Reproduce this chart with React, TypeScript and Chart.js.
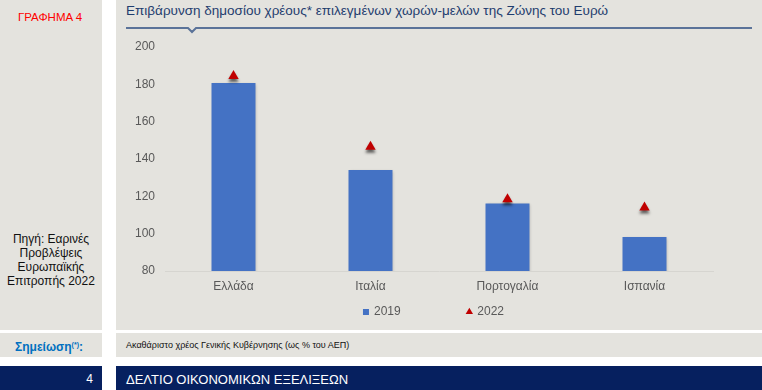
import React, { useEffect, useRef } from "react";
import { Chart, registerables } from "chart.js";

Chart.register(...registerables);

const categories = ["Ελλάδα", "Ιταλία", "Πορτογαλία", "Ισπανία"];
const values2019 = [180.7, 134.1, 116.2, 98.2];
const values2022 = [184.5, 146.5, 118.5, 114];
const seriesLabels = ["2019", "2022"];
const yTicks = { min: 80, max: 200, step: 20 };

const BG = "#e4e3de";
const FONT = "'Liberation Sans', Arial, sans-serif";

const shadowPlugin = {
  id: "markShadow",
  beforeDatasetDraw(chart: any, args: any) {
    const ctx = chart.ctx;
    ctx.save();
    if (args.meta.type === "bar") {
      ctx.shadowColor = "rgba(0,0,0,0.25)";
      ctx.shadowBlur = 3;
      ctx.shadowOffsetX = 1;
      ctx.shadowOffsetY = 1;
    } else {
      ctx.shadowColor = "rgba(0,0,0,0.6)";
      ctx.shadowBlur = 3;
      ctx.shadowOffsetX = 0;
      ctx.shadowOffsetY = 3;
    }
  },
  afterDatasetDraw(chart: any) {
    chart.ctx.restore();
  },
};

function ChartBox() {
  const ref = useRef<HTMLCanvasElement | null>(null);
  useEffect(() => {
    if (!ref.current) return;
    const chart = new Chart(ref.current, {
      type: "bar",
      data: {
        labels: categories,
        datasets: [
          {
            type: "bar",
            label: seriesLabels[0],
            data: values2019,
            backgroundColor: "#4472c4",
            borderWidth: 0,
            categoryPercentage: 1,
            barPercentage: 0.321,
            pointStyle: "rect",
            order: 1,
          } as any,
          {
            type: "line",
            label: seriesLabels[1],
            data: values2022,
            showLine: false,
            pointStyle: "triangle",
            pointRadius: 6,
            pointHoverRadius: 6,
            pointBorderWidth: 0,
            pointBackgroundColor: "#c00000",
            backgroundColor: "#c00000",
            borderColor: "#c00000",
            order: 0,
          } as any,
        ],
      },
      options: {
        animation: false,
        responsive: true,
        maintainAspectRatio: false,
        layout: { padding: { left: 0, right: 49, top: 11, bottom: 2 } },
        scales: {
          x: {
            grid: { display: false, drawTicks: false },
            border: { display: true, color: "#d6d5d0", width: 1 },
            ticks: { color: "#595959", font: { family: FONT, size: 12 }, padding: 8 },
            afterFit: (s: any) => {
              s.height = 25;
            },
          },
          y: {
            min: yTicks.min,
            max: yTicks.max,
            grid: { display: false, drawTicks: false },
            border: { display: false },
            ticks: {
              stepSize: yTicks.step,
              color: "#595959",
              font: { family: FONT, size: 12 },
              padding: 10,
            },
            afterFit: (s: any) => {
              s.width = 49;
              s.paddingTop = 0;
              s.paddingBottom = 0;
            },
          },
        },
        plugins: {
          tooltip: { enabled: false },
          legend: {
            position: "bottom",
            fullSize: false,
            labels: {
              color: "#595959",
              font: { family: FONT, size: 12 },
              usePointStyle: true,
              boxWidth: 4,
              boxHeight: 6,
              padding: 10,
              sort: (a: any, b: any) => a.datasetIndex - b.datasetIndex,
              generateLabels: (c: any) => {
                const items = (Chart as any).defaults.plugins.legend.labels.generateLabels(c);
                items.forEach((it: any) => {
                  if (it.datasetIndex === 0) it.text = it.text + " ".repeat(17);
                  else it.text = it.text + " ".repeat(3);
                });
                return items;
              },
            },
          },
        },
      },
      plugins: [shadowPlugin],
    } as any);
    return () => chart.destroy();
  }, []);
  return <canvas ref={ref} />;
}

export default function App() {
  useEffect(() => {
    document.body.style.margin = "0";
  }, []);
  const abs = (o: React.CSSProperties): React.CSSProperties => ({ position: "absolute", ...o });
  return (
    <div style={abs({ left: 0, top: 0, width: 762, height: 390, background: "#fff", fontFamily: FONT, overflow: "hidden" })}>
      <div style={abs({ left: 0, top: 0, width: 102, height: 330, background: BG })} />
      <div style={abs({ left: 116, top: 0, width: 646, height: 330, background: BG })} />
      <div style={abs({ left: 0, top: 10, width: 100, textAlign: "center", color: "#ff0000", fontSize: 11.5, lineHeight: "14px" })}>
        ΓΡΑΦΗΜΑ 4
      </div>
      <div style={abs({ left: 0, top: 233, width: 102, textAlign: "center", color: "#111", fontSize: 12, lineHeight: "13.9px" })}>
        Πηγή: Εαρινές
        <br />
        Προβλέψεις
        <br />
        Ευρωπαϊκής
        <br />
        Επιτροπής 2022
      </div>
      <div style={abs({ left: 126, top: 3, whiteSpace: "nowrap", color: "#1f3d6e", fontSize: 13.5, lineHeight: "16px" })}>
        Επιβάρυνση δημοσίου χρέους* επιλεγμένων χωρών-μελών της Ζώνης του Ευρώ
      </div>
      <svg width={762} height={40} style={abs({ left: 0, top: 0 })}>
        <polyline points="126,28 188,28 192,32 196,28 752,28" fill="none" stroke="#5b7399" strokeWidth={2} />
      </svg>
      <div style={abs({ left: 116, top: 36, width: 646, height: 294 })}>
        <ChartBox />
      </div>
      <div style={abs({ left: 0, top: 333, width: 102, height: 24, background: BG })} />
      <div style={abs({ left: 116, top: 333, width: 646, height: 24, background: BG })} />
      <div style={abs({ left: 0, top: 337, width: 83, textAlign: "right", color: "#0070c0", fontWeight: "bold", fontSize: 12, lineHeight: "16px" })}>
        Σημείωση<sup style={{ fontSize: 7, verticalAlign: "4px" }}>(*)</sup>:
      </div>
      <div style={abs({ left: 126, top: 339, color: "#111", fontSize: 9, lineHeight: "12px", whiteSpace: "nowrap" })}>
        Ακαθάριστο χρέος Γενικής Κυβέρνησης (ως % του ΑΕΠ)
      </div>
      <div style={abs({ left: 0, top: 366, width: 102, height: 24, background: "#06205f" })} />
      <div style={abs({ left: 116, top: 366, width: 646, height: 24, background: "#06205f" })} />
      <div style={abs({ left: 0, top: 372, width: 93, textAlign: "right", color: "#fff", fontSize: 12, lineHeight: "14px" })}>4</div>
      <div style={abs({ left: 126, top: 372, color: "#fff", fontSize: 13, lineHeight: "15px", whiteSpace: "nowrap", fontFamily: "'Liberation Sans Narrow', 'Liberation Sans', Arial, sans-serif" })}>
        ΔΕΛΤΙΟ ΟΙΚΟΝΟΜΙΚΩΝ ΕΞΕΛΙΞΕΩΝ
      </div>
    </div>
  );
}
